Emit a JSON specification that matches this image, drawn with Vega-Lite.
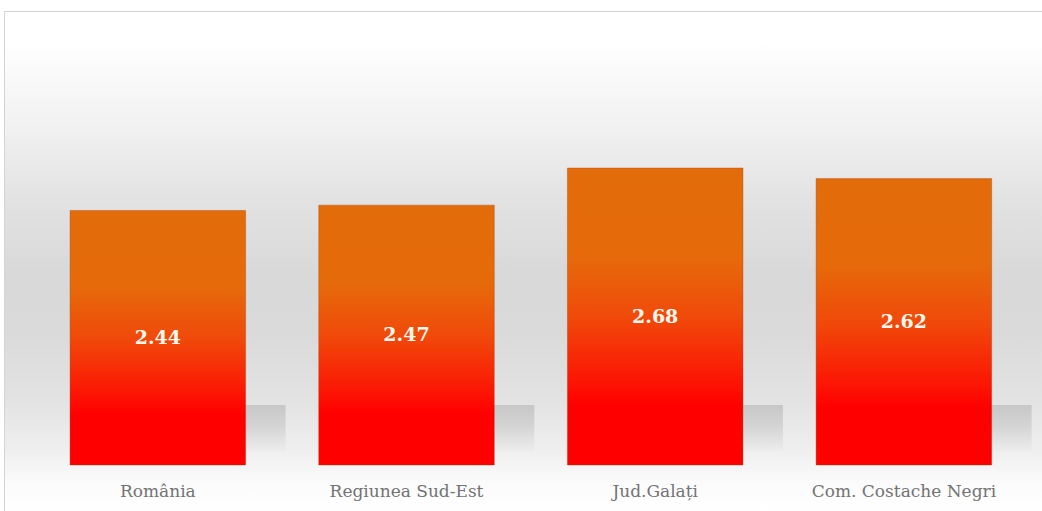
{
  "$schema": "https://vega.github.io/schema/vega-lite/v6.json",
  "autosize": "none",
  "padding": {"left": 4, "top": 11, "right": 0, "bottom": 0},
  "width": 1038,
  "height": 500,
  "background": "#ffffff",
  "view": {
    "stroke": "#d4d4d4",
    "strokeWidth": 1,
    "fill": {
      "gradient": "linear", "x1": 0, "y1": 0, "x2": 0, "y2": 1,
      "stops": [
        {"offset": 0, "color": "#ffffff"},
        {"offset": 0.06, "color": "#ffffff"},
        {"offset": 0.22, "color": "#f2f2f2"},
        {"offset": 0.38, "color": "#e2e2e2"},
        {"offset": 0.52, "color": "#d9d9d9"},
        {"offset": 0.64, "color": "#dadada"},
        {"offset": 0.78, "color": "#e3e3e3"},
        {"offset": 0.88, "color": "#efefef"},
        {"offset": 0.94, "color": "#fbfbfb"},
        {"offset": 1, "color": "#ffffff"}
      ]
    }
  },
  "data": {
    "values": [
      {"region": "România", "value": 2.44},
      {"region": "Regiunea Sud-Est", "value": 2.47},
      {"region": "Jud.Galați", "value": 2.68},
      {"region": "Com. Costache Negri", "value": 2.62}
    ]
  },
  "encoding": {
    "x": {
      "field": "region", "type": "nominal", "sort": null,
      "scale": {"paddingInner": 0.294, "paddingOuter": 0.234, "align": 0.5675},
      "axis": {
        "title": null, "domain": false, "ticks": false, "labelAngle": 0,
        "offset": -46, "labelPadding": 18, "labelLimit": 0,
        "labelFont": "DejaVu Serif", "labelFontSize": 17, "labelColor": "#737373"
      }
    }
  },
  "layer": [
    {
      "mark": {
        "type": "bar", "xOffset": 40,
        "fill": {
          "gradient": "linear", "x1": 0, "y1": 0, "x2": 0, "y2": 1,
          "stops": [
            {"offset": 0, "color": "#c2c2c2"},
            {"offset": 0.45, "color": "#d0d0d0"},
            {"offset": 1, "color": "#ececec"}
          ]
        },
        "opacity": 0.85
      },
      "encoding": {
        "y": {"datum": 1.34, "type": "quantitative", "scale": {"domain": [0.74, 3.568], "nice": false, "zero": false}, "axis": null},
        "y2": {"datum": 1.08}
      }
    },
    {
      "mark": {
        "type": "bar",
        "stroke": "#a04000", "strokeOpacity": 0.35, "strokeWidth": 1,
        "fill": {
          "gradient": "linear", "x1": 0, "y1": 0, "x2": 0, "y2": 1,
          "stops": [
            {"offset": 0, "color": "#e36c0a"},
            {"offset": 0.3, "color": "#e66a0a"},
            {"offset": 0.5, "color": "#f04a0a"},
            {"offset": 0.72, "color": "#fc1504"},
            {"offset": 0.8, "color": "#ff0000"},
            {"offset": 1, "color": "#ff0000"}
          ]
        }
      },
      "encoding": {
        "y": {"field": "value", "type": "quantitative", "scale": {"domain": [0.74, 3.568], "nice": false, "zero": false}, "axis": null},
        "y2": {"datum": 1}
      }
    },
    {
      "transform": [{"calculate": "(datum.value + 1) / 2", "as": "mid"}],
      "mark": {
        "type": "text", "font": "DejaVu Serif", "fontWeight": "bold", "fontSize": 19,
        "color": "#fff8ee", "baseline": "middle", "align": "center"
      },
      "encoding": {
        "y": {"field": "mid", "type": "quantitative", "scale": {"domain": [0.74, 3.568], "nice": false, "zero": false}, "axis": null},
        "text": {"field": "value", "type": "quantitative", "format": ".2f"}
      }
    }
  ]
}
